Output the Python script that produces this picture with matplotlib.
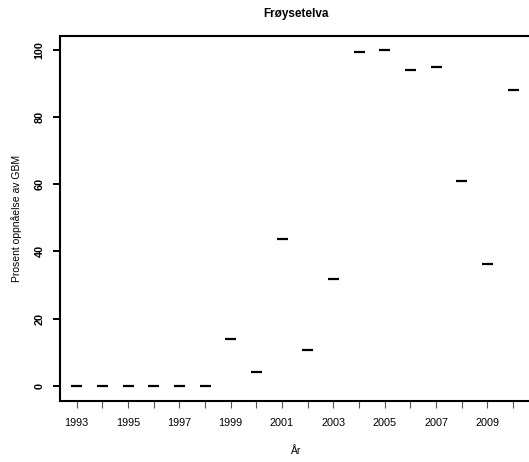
import numpy as np
import matplotlib
matplotlib.use("Agg")
import matplotlib.pyplot as plt

plt.rcParams["font.family"] = ["Liberation Sans", "DejaVu Sans"]

# percent of GBM (environmental target) achieved per year
years = np.arange(1993, 2011)
values = [0, 0, 0, 0, 0, 0, 13.9, 4.2, 43.8, 10.6, 31.8,
          99.5, 100.0, 94.0, 94.8, 61.0, 36.2, 88.0]
xtick_labels = [str(y) if (y - 1993) % 2 == 0 else "" for y in years]
yticks = [0, 20, 40, 60, 80, 100]

fig = plt.figure(figsize=(5.29, 4.62), dpi=100)
ax = fig.add_axes([0.1134, 0.132, 0.892, 0.7907])

half = 0.215
ax.hlines(values, years - half, years + half, colors="black", lw=1.6)

ax.set_xlim(1992.35, 2010.73)
ax.set_ylim(-4.56, 104.26)

ax.set_xticks(years)
ax.set_xticklabels(xtick_labels, fontsize=7.8)
ax.tick_params(axis="x", length=4.7, width=0.8, color="#555555", pad=7.5)
ax.set_yticks(yticks)
ax.set_yticklabels([str(v) for v in yticks], fontsize=7.8, fontweight="bold",
                   rotation=90, va="center")
ax.tick_params(axis="y", length=5, width=1.4, color="black", pad=6)

for s in ax.spines.values():
    s.set_linewidth(1.5)

ax.set_xlabel("År", fontsize=7.5, labelpad=13)
ax.set_ylabel("Prosent oppnåelse av GBM", fontsize=7.5, labelpad=9)
ax.set_title("Frøysetelva", fontsize=8.5, fontweight="bold", pad=13.5)

fig.savefig("out.png", dpi=100)
